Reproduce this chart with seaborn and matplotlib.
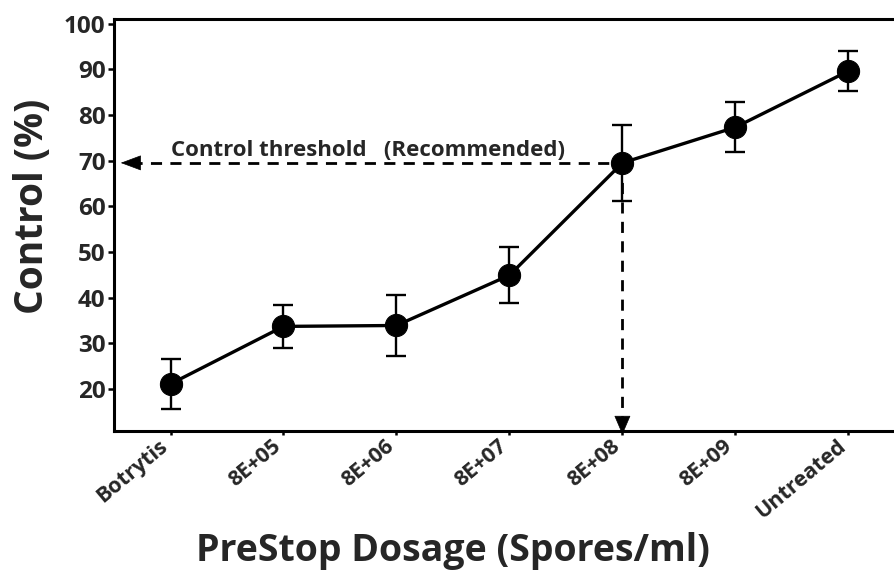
import numpy as np
import pandas as pd
import matplotlib
matplotlib.use("Agg")
import matplotlib.pyplot as plt
import seaborn as sns

# values
dosage = ["Botrytis", "8E+05", "8E+06", "8E+07", "8E+08", "8E+09", "Untreated"]
control_mean = [21.1, 33.7, 33.9, 44.9, 69.5, 77.3, 89.6]
control_err = [5.5, 4.7, 6.7, 6.1, 8.3, 5.5, 4.4]
threshold = 69.5
recommended = "8E+08"

sns.set_theme(style="white")
plt.rcParams["font.family"] = ["Open Sans", "DejaVu Sans"]
plt.rcParams["font.weight"] = "bold"

df = pd.DataFrame({"dosage": dosage, "control": control_mean, "err": control_err})
pos = np.arange(len(df))

fig = plt.figure(figsize=(8.95, 5.71), dpi=100)
ax = fig.add_axes([0.1274, 0.2452, 0.8836, 0.7215])

ax.errorbar(pos, df["control"], yerr=df["err"], fmt="none", ecolor="black",
            elinewidth=1.7, capsize=7.5, capthick=1.7, zorder=2)
sns.lineplot(data=df, x=pos, y="control", color="black", linewidth=2.4,
             marker="o", markersize=16, markeredgecolor="black", ax=ax,
             sort=False, zorder=3)

ax.set_xlim(-0.5, len(df) - 0.5)
ax.set_ylim(10.8, 101)
ax.set_yticks([20, 30, 40, 50, 60, 70, 80, 90, 100])
ax.set_xticks(pos)
ax.set_xticklabels([])
# rotated category labels, nudged left of the tick like the original
for i, name in enumerate(df["dosage"]):
    ax.annotate(name, xy=(i, 0), xycoords=("data", "axes fraction"),
                xytext=(-4, -9), textcoords="offset points", rotation=40,
                ha="right", va="center", rotation_mode="anchor",
                fontsize=15.5, fontweight="bold", annotation_clip=False)
for lab in ax.get_yticklabels():
    lab.set_fontsize(17.5)
    lab.set_fontweight("bold")

for s in ["left", "bottom", "top"]:
    ax.spines[s].set_linewidth(2.2)
    ax.spines[s].set_color("black")
ax.spines["right"].set_visible(False)
ax.tick_params(axis="y", direction="out", length=4, width=1.8, color="black",
               left=True, pad=2)
ax.tick_params(axis="x", direction="out", length=3, width=1.8, color="black",
               bottom=True)

ax.set_xlabel("PreStop Dosage (Spores/ml)", fontsize=27, fontweight="bold")
ax.xaxis.set_label_coords(0.428, -0.245)
ax.set_ylabel("Control (%)", fontsize=28, fontweight="bold")
ax.yaxis.set_label_coords(-0.078, 0.545)

# threshold guide lines
xr = dosage.index(recommended)
ax.plot([-0.35, xr], [threshold, threshold], color="black", lw=2.0,
        dashes=(4, 3), zorder=1)
ax.plot([xr, xr], [threshold, 13.5], color="black", lw=2.0,
        dashes=(4, 3), zorder=1)
ax.annotate("", xy=(-0.465, threshold), xytext=(-0.3, threshold),
            arrowprops=dict(arrowstyle="-|>,head_length=0.75,head_width=0.28",
                            color="black", lw=0.5, mutation_scale=18))
ax.annotate("", xy=(xr, 9.4), xytext=(xr, 14.5),
            arrowprops=dict(arrowstyle="-|>,head_length=0.7,head_width=0.3",
                            color="black", lw=0.5, mutation_scale=18),
            annotation_clip=False)
ax.text(0.0, 70.9, "Control threshold   (Recommended)", fontsize=16,
        fontweight="bold", ha="left", va="baseline")

fig.savefig("out.png", dpi=100)
